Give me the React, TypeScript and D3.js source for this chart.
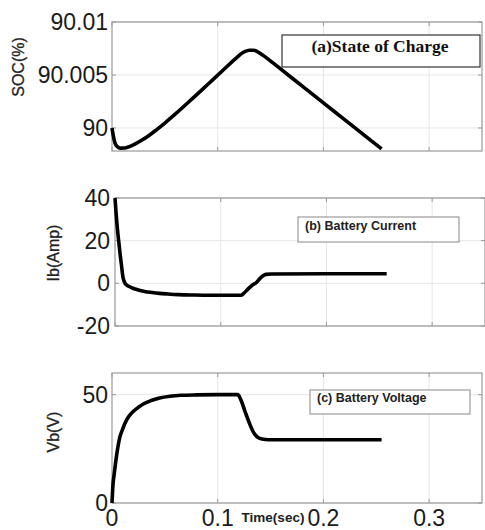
import React from "react";
import * as d3 from "d3";

// ---- Data ----
const socTime = [0, 0.001, 0.002, 0.003, 0.005, 0.007, 0.009, 0.011, 0.014, 0.017, 0.022, 0.028, 0.035, 0.042, 0.05, 0.06, 0.075, 0.09, 0.105, 0.119, 0.122, 0.126, 0.13, 0.134, 0.137, 0.14, 0.143, 0.148, 0.16, 0.18, 0.2, 0.22, 0.24, 0.255];
const socValues = [90.0, 89.9994, 89.9989, 89.99855, 89.99825, 89.99812, 89.9981, 89.99811, 89.99817, 89.99827, 89.9985, 89.99884, 89.9993, 89.99983, 90.00047, 90.00133, 90.00268, 90.00406, 90.00545, 90.00674, 90.00699, 90.00722, 90.00733, 90.00734, 90.00724, 90.00706, 90.00685, 90.00648, 90.00553, 90.00395, 90.00237, 90.00079, 89.99921, 89.99803];

const ibTime = [0, 0.001, 0.002, 0.003, 0.004, 0.005, 0.006, 0.0075, 0.009, 0.011, 0.014, 0.017, 0.022, 0.028, 0.035, 0.042, 0.05, 0.06, 0.075, 0.09, 0.105, 0.119, 0.122, 0.126, 0.13, 0.134, 0.137, 0.14, 0.143, 0.148, 0.2, 0.257];
const ibValues = [40, 33, 27, 22, 17.5, 13, 9, 3, 0.5, -0.8, -1.6, -2.3, -3.1, -3.8, -4.3, -4.7, -5.0, -5.3, -5.5, -5.6, -5.6, -5.6, -4.6, -2.6, -0.8, 0.5, 2.2, 3.5, 4.2, 4.4, 4.5, 4.5];

const vbTime = [0, 0.0005, 0.001, 0.002, 0.003, 0.0045, 0.006, 0.0075, 0.01, 0.0125, 0.016, 0.02, 0.025, 0.03, 0.037, 0.045, 0.055, 0.065, 0.08, 0.1, 0.119, 0.122, 0.126, 0.13, 0.134, 0.138, 0.142, 0.148, 0.2, 0.255];
const vbValues = [0, 5, 9, 13, 17, 22.5, 27, 30.5, 34, 37, 40, 42.2, 44.2, 45.8, 47.3, 48.5, 49.3, 49.7, 49.9, 50, 50, 47.5, 42, 36.8, 32.5, 30.3, 29.5, 29.2, 29.2, 29.2];

const xTicks = [0, 0.1, 0.2, 0.3];
const xTickLabels = ["0", "0.1", "0.2", "0.3"];
const socTicks = [90, 90.005, 90.01];
const socTickLabels = ["90", "90.005", "90.01"];
const ibTicks = [-20, 0, 20, 40];
const ibTickLabels = ["-20", "0", "20", "40"];
const vbTicks = [0, 50];
const vbTickLabels = ["0", "50"];

const FRAME = "#9a9a9a";
const GRID = "#e6e6e6";
const SANS = "Liberation Sans, Arial, Helvetica, sans-serif";

type PanelProps = {
  left: number; right: number; top: number; bottom: number;
  yDomain: [number, number];
  times: number[]; values: number[];
  yTicks: number[]; yTickLabels: string[];
  yLabel: string; yLabelX: number; yLabelY: number;
  showXLabels?: boolean;
  legend: React.ReactNode;
  labelRight: number;
};

function Panel(p: PanelProps) {
  const x = d3.scaleLinear().domain([0, 0.35]).range([p.left, p.right]);
  const y = d3.scaleLinear().domain(p.yDomain).range([p.bottom, p.top]);
  const pts = p.times.map((t, i) => [t, p.values[i]] as [number, number]);
  const line = d3.line<[number, number]>()
    .x(d => x(d[0]))
    .y(d => y(d[1]))
    .curve(d3.curveMonotoneX);
  const tl = 4;
  return (
    <g>
      <rect x={p.left} y={p.top} width={p.right - p.left} height={p.bottom - p.top} fill="white" />
      {xTicks.filter(t => t > 0).map(t => (
        <line key={"gx" + t} x1={x(t)} x2={x(t)} y1={p.top} y2={p.bottom} stroke={GRID} strokeWidth={1} />
      ))}
      {p.yTicks.map(t => (
        <line key={"gy" + t} x1={p.left} x2={p.right} y1={y(t)} y2={y(t)} stroke={GRID} strokeWidth={1} />
      ))}
      {xTicks.map(t => (
        <g key={"tx" + t}>
          <line x1={x(t)} x2={x(t)} y1={p.bottom} y2={p.bottom - tl} stroke={FRAME} />
          <line x1={x(t)} x2={x(t)} y1={p.top} y2={p.top + tl} stroke={FRAME} />
        </g>
      ))}
      {p.yTicks.map(t => (
        <g key={"ty" + t}>
          <line x1={p.left} x2={p.left + tl} y1={y(t)} y2={y(t)} stroke={FRAME} />
          <line x1={p.right} x2={p.right - tl} y1={y(t)} y2={y(t)} stroke={FRAME} />
        </g>
      ))}
      <rect x={p.left} y={p.top} width={p.right - p.left} height={p.bottom - p.top} fill="none" stroke={FRAME} strokeWidth={1.2} />
      {p.legend}
      <path d={line(pts) || ""} fill="none" stroke="#000" strokeWidth={3.6} strokeLinejoin="round" />
      {p.yTicks.map((t, i) => (
        <text key={"ly" + t} x={p.labelRight} y={y(t) + 8} textAnchor="end" fontFamily={SANS} fontSize={23} fill="#1a1a1a">
          {p.yTickLabels[i]}
        </text>
      ))}
      {p.showXLabels && xTicks.map((t, i) => (
        <text key={"lx" + t} x={x(t)} y={526} textAnchor="middle" fontFamily={SANS} fontSize={23} fill="#1a1a1a">
          {xTickLabels[i]}
        </text>
      ))}
      <text transform={`translate(${p.yLabelX},${p.yLabelY}) rotate(-90)`} textAnchor="middle" fontFamily={SANS} fontSize={16} fill="#222" stroke="#222" strokeWidth={0.3}>
        {p.yLabel}
      </text>
    </g>
  );
}

export default function App() {
  return (
    <svg width={485} height={530} style={{ position: "absolute", left: 0, top: 0, background: "white" }}>
      <Panel
        left={112} right={482} top={22} bottom={151}
        yDomain={[89.99783, 90.01]}
        times={socTime} values={socValues}
        yTicks={socTicks} yTickLabels={socTickLabels}
        yLabel="SOC(%)" yLabelX={24} yLabelY={67}
        labelRight={108}
        legend={
          <g>
            <rect x={282} y={35} width={198} height={32} fill="white" stroke="#333" strokeWidth={1.2} />
            <text x={380} y={52} textAnchor="middle" fontFamily="Liberation Serif, Times New Roman, serif" fontWeight="bold" fontSize={17.5} fill="#111">(a)State of Charge</text>
          </g>
        }
      />
      <Panel
        left={115} right={485} top={198} bottom={326}
        yDomain={[-20, 40]}
        times={ibTime} values={ibValues}
        yTicks={ibTicks} yTickLabels={ibTickLabels}
        yLabel="Ib(Amp)" yLabelX={59} yLabelY={253}
        labelRight={110}
        legend={
          <g>
            <rect x={298} y={217} width={161} height={25} fill="white" stroke="#888" strokeWidth={1} />
            <text x={305} y={230} fontFamily={SANS} fontWeight="bold" fontSize={12.5} fill="#222">(b) Battery Current</text>
          </g>
        }
      />
      <Panel
        left={112} right={482} top={373} bottom={503}
        yDomain={[0, 60]}
        times={vbTime} values={vbValues}
        yTicks={vbTicks} yTickLabels={vbTickLabels}
        yLabel="Vb(V)" yLabelX={59} yLabelY={432}
        labelRight={108}
        showXLabels
        legend={
          <g>
            <rect x={310} y={390} width={160} height={24} fill="white" stroke="#888" strokeWidth={1} />
            <text x={317} y={402} fontFamily={SANS} fontWeight="bold" fontSize={12.5} fill="#222">(c) Battery Voltage</text>
          </g>
        }
      />
      <text x={273} y={522} textAnchor="middle" fontFamily={SANS} fontWeight="bold" fontSize={13.5} fill="#222">Time(sec)</text>
    </svg>
  );
}
